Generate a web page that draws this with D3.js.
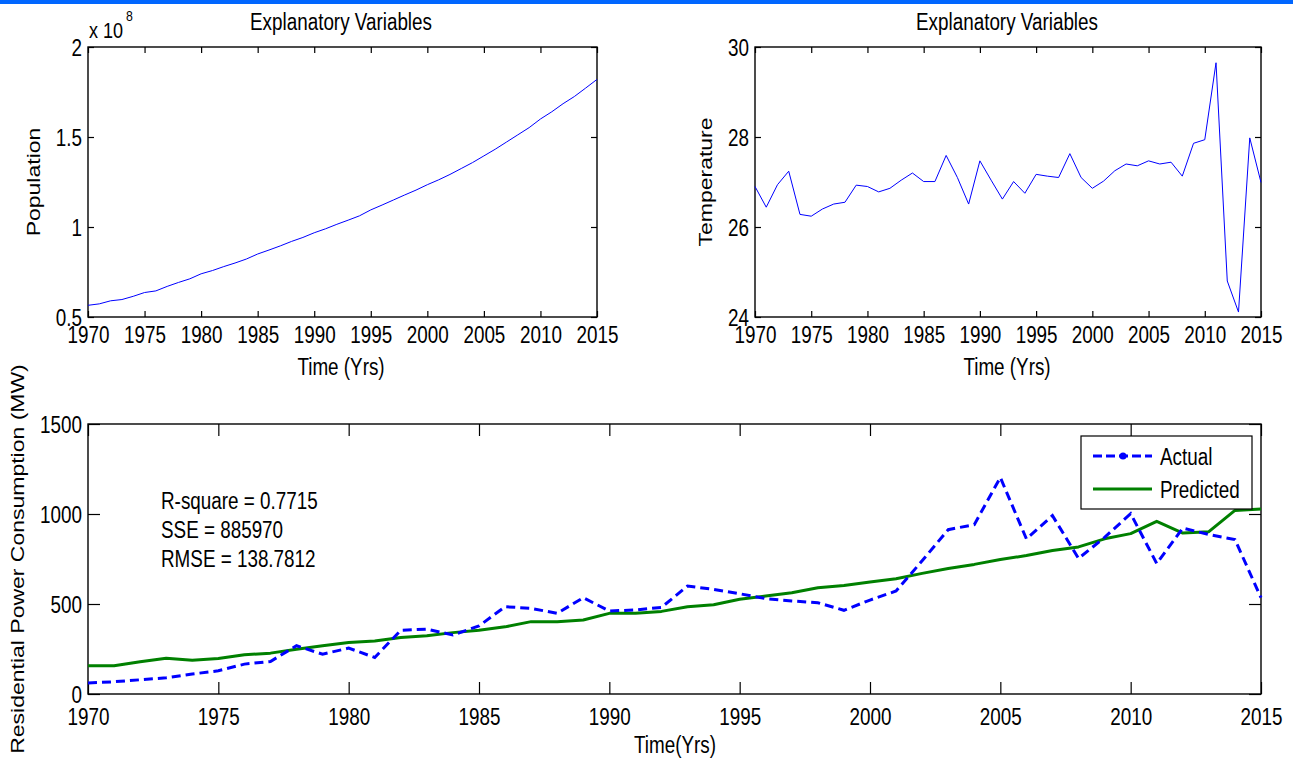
<!DOCTYPE html>
<html>
<head>
<meta charset="utf-8">
<script src="https://cdn.jsdelivr.net/npm/d3@7"></script>
<style>
  html, body { margin: 0; padding: 0; background: #fff; }
  svg { display: block; }
  text { font-family: "Liberation Sans", Arial, Helvetica, sans-serif; fill: #000; }
</style>
</head>
<body>
<svg id="chart" width="1293" height="758"></svg>
<script>
// ---------------- DATA ----------------
const years = d3.range(1970, 2016);
const xTickYears = [1970, 1975, 1980, 1985, 1990, 1995, 2000, 2005, 2010, 2015];

// Population (x 10^8)
const population = [0.565, 0.573, 0.590, 0.597, 0.615, 0.636, 0.645, 0.670, 0.692, 0.712,
  0.740, 0.758, 0.780, 0.800, 0.822, 0.850, 0.872, 0.895, 0.920, 0.942,
  0.968, 0.990, 1.015, 1.038, 1.062, 1.095, 1.122, 1.150, 1.178, 1.205,
  1.235, 1.262, 1.292, 1.325, 1.358, 1.395, 1.432, 1.472, 1.512, 1.552,
  1.600, 1.640, 1.685, 1.725, 1.772, 1.820];
const popTicks = [0.5, 1, 1.5, 2];

// Temperature
const temperature = [26.90, 26.44, 26.94, 27.24, 26.28, 26.24, 26.40, 26.51, 26.55, 26.93,
  26.90, 26.78, 26.86, 27.04, 27.20, 27.01, 27.01, 27.59, 27.10, 26.51,
  27.47, 27.04, 26.62, 27.01, 26.75, 27.17, 27.13, 27.10, 27.63, 27.10,
  26.86, 27.02, 27.25, 27.40, 27.36, 27.47, 27.40, 27.44, 27.13, 27.86,
  27.94, 29.65, 24.80, 24.11, 27.98, 26.99];
const tempTicks = [24, 26, 28, 30];

// Residential power consumption (MW)
const actual = [61, 68, 79, 90, 111, 129, 166, 181, 268, 221,
  255, 203, 354, 360, 328, 378, 485, 476, 448, 535,
  461, 467, 481, 600, 581, 557, 530, 517, 507, 465,
  522, 572, 740, 913, 941, 1203, 862, 991, 753, 870,
  1002, 725, 922, 886, 858, 535];
const predicted = [157, 157, 179, 199, 188, 197, 218, 227, 249, 268,
  286, 295, 314, 323, 341, 354, 373, 402, 402, 411,
  448, 448, 459, 485, 496, 526, 544, 563, 590, 603,
  622, 640, 670, 697, 720, 747, 769, 797, 817, 862,
  891, 959, 894, 902, 1020, 1028];
const powerTicks = [0, 500, 1000, 1500];

const titleText = "Explanatory Variables";
const statsText = ["R-square = 0.7715", "SSE = 885970", "RMSE = 138.7812"];
const legendLabels = ["Actual", "Predicted"];

// ---------------- RENDER ----------------
const SX = 0.82;     // horizontal squeeze of the glyphs
const FS = 23;       // font size
const svg = d3.select("#chart");

svg.append("rect").attr("x", 0).attr("y", 0).attr("width", 1293).attr("height", 4).attr("fill", "#0066ff");

function label(g, x, y, s, anchor, size, rot) {
  const t = g.append("text")
    .attr("transform", rot ? `translate(${x},${y}) rotate(-90) scale(1,${SX})` : `translate(${x},${y}) scale(${SX},1)`)
    .attr("text-anchor", anchor || "middle")
    .attr("dy", "0.36em")
    .style("font-size", (size || FS) + "px")
    .text(s);
  return t;
}

function panel(opts) {
  const { x0, x1, y0, y1, yDomain, yTicks, tickLen, xLabelOff } = opts;
  const g = svg.append("g");
  const x = d3.scaleLinear().domain([1970, 2015]).range([x0, x1]);
  const y = d3.scaleLinear().domain(yDomain).range([y1, y0]);

  const styleAxis = sel => {
    sel.select(".domain").remove();
    sel.selectAll(".tick line").attr("stroke", "#000").attr("stroke-width", 1.2);
  };

  // bottom ticks + labels
  const ab = g.append("g").attr("transform", `translate(0,${y1})`)
    .call(d3.axisBottom(x).tickValues(xTickYears).tickFormat(d3.format("d")).tickSizeInner(-tickLen).tickSizeOuter(0));
  styleAxis(ab);
  ab.selectAll(".tick text")
    .attr("y", xLabelOff).attr("dy", "0.36em")
    .attr("transform", `scale(${SX},1)`)
    .style("font-size", FS + "px").attr("fill", "#000")
    .style("font-family", '"Liberation Sans", Arial, sans-serif');

  // top ticks
  const at = g.append("g").attr("transform", `translate(0,${y0})`)
    .call(d3.axisTop(x).tickValues(xTickYears).tickFormat("").tickSizeInner(-tickLen).tickSizeOuter(0));
  styleAxis(at);

  // left ticks + labels
  const al = g.append("g").attr("transform", `translate(${x0},0)`)
    .call(d3.axisLeft(y).tickValues(yTicks).tickFormat(d => String(d)).tickSizeInner(-tickLen).tickSizeOuter(0));
  styleAxis(al);
  al.selectAll(".tick text")
    .attr("x", -6 / SX).attr("dy", "0.36em")
    .attr("transform", `scale(${SX},1)`)
    .style("font-size", FS + "px").attr("fill", "#000")
    .style("font-family", '"Liberation Sans", Arial, sans-serif');

  // right ticks
  const ar = g.append("g").attr("transform", `translate(${x1},0)`)
    .call(d3.axisRight(y).tickValues(yTicks).tickFormat("").tickSizeInner(-tickLen).tickSizeOuter(0));
  styleAxis(ar);

  // box
  g.append("rect").attr("x", x0).attr("y", y0).attr("width", x1 - x0).attr("height", y1 - y0)
    .attr("fill", "none").attr("stroke", "#000").attr("stroke-width", 1.4);

  return { g, x, y };
}

// ---- Top-left: population ----
const p1 = panel({ x0: 88, x1: 597, y0: 47, y1: 317, yDomain: [0.5, 2], yTicks: popTicks, tickLen: 6, xLabelOff: 18 });
p1.g.append("path").datum(population)
  .attr("fill", "none").attr("stroke", "#0000ff").attr("stroke-width", 1)
  .attr("d", d3.line().x((d, i) => p1.x(years[i])).y(d => p1.y(d)));
label(p1.g, 341, 22, titleText, "middle");
label(p1.g, 89, 30, "x 10", "start", 22);
label(p1.g, 126, 16, "8", "start", 15);
label(p1.g, 341, 367, "Time (Yrs)", "middle");
label(p1.g, 33, 182, "Population", "middle", FS, true);

// ---- Top-right: temperature ----
const p2 = panel({ x0: 755, x1: 1261, y0: 47, y1: 317, yDomain: [24, 30], yTicks: tempTicks, tickLen: 6, xLabelOff: 18 });
p2.g.append("path").datum(temperature)
  .attr("fill", "none").attr("stroke", "#0000ff").attr("stroke-width", 1)
  .attr("d", d3.line().x((d, i) => p2.x(years[i])).y(d => p2.y(d)));
label(p2.g, 1007, 22, titleText, "middle");
label(p2.g, 1007, 367, "Time (Yrs)", "middle");
label(p2.g, 705, 182, "Temperature", "middle", FS, true);

// ---- Bottom: power consumption ----
const p3 = panel({ x0: 88, x1: 1261, y0: 424, y1: 694, yDomain: [0, 1500], yTicks: powerTicks, tickLen: 12, xLabelOff: 23 });
p3.g.append("path").datum(predicted)
  .attr("fill", "none").attr("stroke", "#008000").attr("stroke-width", 3).attr("stroke-linejoin", "round")
  .attr("d", d3.line().x((d, i) => p3.x(years[i])).y(d => p3.y(d)));
p3.g.append("path").datum(actual)
  .attr("fill", "none").attr("stroke", "#0000ff").attr("stroke-width", 3).attr("stroke-dasharray", "9,5")
  .attr("d", d3.line().x((d, i) => p3.x(years[i])).y(d => p3.y(d)));
statsText.forEach((s, i) => label(p3.g, 161, 501 + i * 29, s, "start"));
label(p3.g, 675, 745, "Time(Yrs)", "middle");
label(p3.g, 17, 559, "Residential Power Consumption (MW)", "middle", FS, true);

// legend
const lg = p3.g.append("g");
lg.append("rect").attr("x", 1081).attr("y", 436).attr("width", 171).attr("height", 73)
  .attr("fill", "#fff").attr("stroke", "#000").attr("stroke-width", 1.2);
lg.append("line").attr("x1", 1093).attr("x2", 1152).attr("y1", 456).attr("y2", 456)
  .attr("stroke", "#0000ff").attr("stroke-width", 3).attr("stroke-dasharray", "9,4");
lg.append("circle").attr("cx", 1123).attr("cy", 456).attr("r", 3.5).attr("fill", "#0000ff");
lg.append("line").attr("x1", 1093).attr("x2", 1152).attr("y1", 489).attr("y2", 489)
  .attr("stroke", "#008000").attr("stroke-width", 3);
legendLabels.forEach((s, i) => label(lg, 1160, 457 + i * 33, s, "start"));
</script>
</body>
</html>
